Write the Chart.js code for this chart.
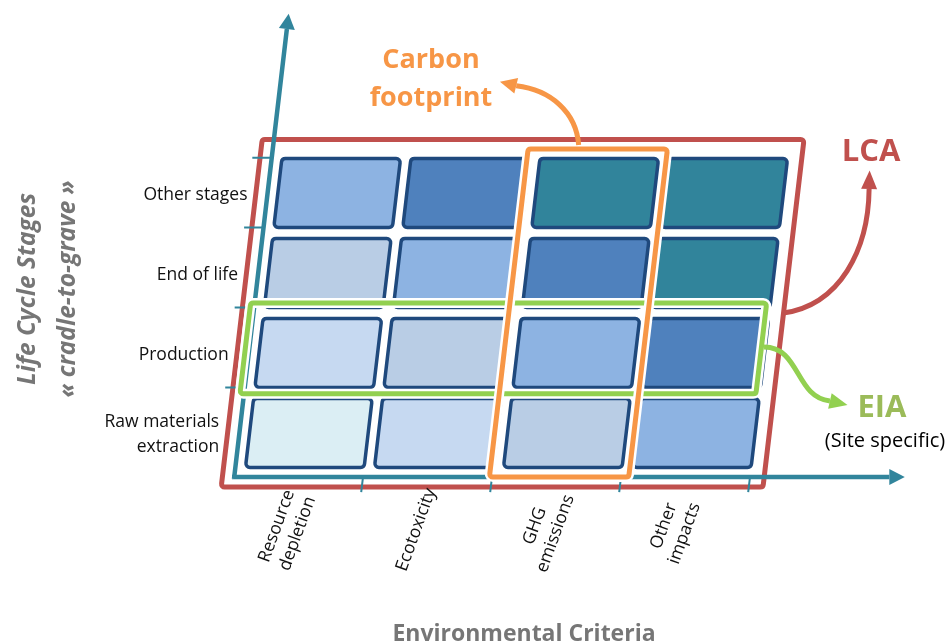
<!DOCTYPE html>
<html>
<head>
<meta charset="utf-8">
<script src="https://cdn.jsdelivr.net/npm/chart.js@4.4.0/dist/chart.umd.min.js"></script>
<style>
body { margin: 0; background: #fff; }
#chart { display: block; }
</style>
</head>
<body>
<canvas id="chart" width="952" height="644"></canvas>
<script>
// life cycle stages, bottom row first
const stages = [['Raw materials', 'extraction'], ['Production'], ['End of life'], ['Other stages']];
// environmental criteria, left column first
const criteria = [['Resource', 'depletion'], ['Ecotoxicity'], ['GHG', 'emissions'], ['Other', 'impacts']];
// impact level of each cell (1 = lightest, 6 = darkest), one array per stage
const rawMaterials = [1, 2, 3, 4];
const production = [2, 3, 4, 5];
const endOfLife = [3, 4, 5, 6];
const otherStages = [4, 5, 6, 6];
const levelColors = ['#dbeef4', '#c6d9f1', '#b9cde5', '#8db3e2', '#4f81bd', '#31849b'];

// scopes drawn round the matrix, in axis units
const lcaScope = { x: [-0.09, 4.11], y: [-0.125, 4.22] };
const carbonScope = { x: [1.98, 3.06], y: [0, 4.1] };
const eiaScope = { x: [-0.03, 3.97], y: [1.04, 2.175] };

const SKEW = 0.118;
const levels = [rawMaterials, production, endOfLife, otherStages];

const cellPoints = [];
levels.forEach((row, r) => {
    row.forEach((lv, c) => {
        cellPoints.push({ x: c + 0.54, y: r + 0.55, level: lv });
    });
});

function toPx(chart, xv, yv) {
    const xs = chart.scales.x, ys = chart.scales.y;
    const py = ys.getPixelForValue(yv);
    const px = xs.getPixelForValue(xv) + SKEW * (ys.getPixelForValue(0) - py);
    return [px, py];
}

function roundedPoly(ctx, pts, rad) {
    const n = pts.length;
    ctx.beginPath();
    ctx.moveTo((pts[0][0] + pts[n - 1][0]) / 2, (pts[0][1] + pts[n - 1][1]) / 2);
    for (let i = 0; i < n; i++) {
        const a = pts[i], b = pts[(i + 1) % n];
        ctx.arcTo(a[0], a[1], b[0], b[1], rad);
    }
    ctx.closePath();
}

function quad(chart, xr, yr) {
    return [
        toPx(chart, xr[0], yr[0]),
        toPx(chart, xr[1], yr[0]),
        toPx(chart, xr[1], yr[1]),
        toPx(chart, xr[0], yr[1])
    ];
}

function scopeBox(ctx, chart, box, color, halo) {
    const pts = quad(chart, box.x, box.y);
    if (halo) {
        roundedPoly(ctx, pts, 3);
        ctx.strokeStyle = '#fff';
        ctx.lineWidth = 10;
        ctx.stroke();
    }
    roundedPoly(ctx, pts, 3);
    ctx.strokeStyle = color;
    ctx.lineWidth = 5;
    ctx.stroke();
}

function arrowHead(ctx, base, tip, size, color) {
    const dx = tip[0] - base[0], dy = tip[1] - base[1];
    const len = Math.hypot(dx, dy);
    const ux = dx / len, uy = dy / len;
    ctx.beginPath();
    ctx.moveTo(tip[0], tip[1]);
    ctx.lineTo(base[0] - uy * size, base[1] + ux * size);
    ctx.lineTo(base[0] + uy * size, base[1] - ux * size);
    ctx.closePath();
    ctx.fillStyle = color;
    ctx.fill();
}

function curvedArrow(ctx, chart, p, color) {
    const q = p.map(v => toPx(chart, v[0], v[1]));
    ctx.beginPath();
    ctx.moveTo(q[0][0], q[0][1]);
    ctx.bezierCurveTo(q[1][0], q[1][1], q[2][0], q[2][1], q[3][0], q[3][1]);
    ctx.strokeStyle = color;
    ctx.lineWidth = 5;
    ctx.lineCap = 'butt';
    ctx.stroke();
    arrowHead(ctx, q[3], q[4], 8, color);
}

const matrixPlugin = {
    id: 'matrix',
    afterDatasetsDraw(chart) {
        const ctx = chart.ctx;
        const teal = '#31859c';
        ctx.save();

        // cells
        chart.data.datasets[0].data.forEach(p => {
            const c = Math.floor(p.x), r = Math.floor(p.y);
            const pts = quad(chart, [c + 0.08, c + 1.0], [r + 0.12, r + 0.98]);
            roundedPoly(ctx, pts, 4);
            ctx.fillStyle = levelColors[p.level - 1];
            ctx.fill();
            ctx.strokeStyle = '#1f497d';
            ctx.lineWidth = 3.5;
            ctx.lineJoin = 'round';
            ctx.stroke();
        });

        // LCA scope
        scopeBox(ctx, chart, lcaScope, '#c0504d', false);

        // axes
        ctx.strokeStyle = teal;
        ctx.lineWidth = 4.5;
        const o = toPx(chart, 0, 0), xEnd = toPx(chart, 5.08, 0), yEnd = toPx(chart, 0, 5.6);
        ctx.beginPath();
        ctx.moveTo(o[0] - 2, o[1]);
        ctx.lineTo(xEnd[0], xEnd[1]);
        ctx.moveTo(o[0], o[1] + 2);
        ctx.lineTo(yEnd[0], yEnd[1]);
        ctx.stroke();
        arrowHead(ctx, xEnd, toPx(chart, 5.2, 0), 8, teal);
        arrowHead(ctx, yEnd, toPx(chart, 0, 5.79), 8, teal);

        // ticks
        ctx.lineWidth = 2;
        ctx.beginPath();
        criteria.forEach((_, c) => {
            const a = toPx(chart, c + 1, -0.02), b = toPx(chart, c + 1, -0.19);
            ctx.moveTo(a[0], a[1]);
            ctx.lineTo(b[0], b[1]);
        });
        const yTicks = stages.map((_, r) => r + 0.12).slice(1).concat([stages.length - 0.01]);
        yTicks.forEach(t => {
            const a = toPx(chart, 0, t), b = toPx(chart, -0.15, t);
            ctx.moveTo(a[0], a[1]);
            ctx.lineTo(b[0], b[1]);
        });
        ctx.stroke();

        // EIA and carbon footprint scopes
        scopeBox(ctx, chart, eiaScope, '#92d050', true);
        scopeBox(ctx, chart, carbonScope, '#f79646', true);

        // arrows from scopes to their names
        curvedArrow(ctx, chart, [[2.368, 4.15], [2.32, 4.56], [2.10, 4.84], [1.83, 4.89], [1.70, 4.94]], '#f79646');
        curvedArrow(ctx, chart, [[4.108, 2.05], [4.54, 2.15], [4.71, 2.84], [4.66, 3.6], [4.647, 3.83]], '#c0504d');
        curvedArrow(ctx, chart, [[3.99, 1.625], [4.27, 1.625], [4.28, 0.99], [4.55, 0.95], [4.69, 0.9]], '#92d050');

        // stage labels
        ctx.fillStyle = '#111';
        ctx.font = '17.5px "Open Sans"';
        ctx.textAlign = 'right';
        ctx.textBaseline = 'middle';
        stages.forEach((lines, r) => {
            const a = toPx(chart, 0, r + 0.55);
            lines.forEach((s, i) => {
                ctx.fillText(s, a[0] - 20, a[1] + (i - (lines.length - 1) / 2) * 25 + 2);
            });
        });

        // criteria labels
        ctx.textAlign = 'center';
        criteria.forEach((lines, c) => {
            const a = toPx(chart, c + 0.46, -0.66);
            ctx.save();
            ctx.translate(a[0], a[1]);
            ctx.rotate(-70 * Math.PI / 180);
            lines.forEach((s, i) => {
                ctx.fillText(s, 0, (i - (lines.length - 1) / 2) * 22);
            });
            ctx.restore();
        });

        // axis titles
        ctx.fillStyle = '#767676';
        ctx.textBaseline = 'alphabetic';
        ctx.font = 'italic bold 24.5px "Open Sans"';
        ctx.save();
        ctx.translate(35, 289);
        ctx.rotate(-Math.PI / 2);
        ctx.fillText('Life Cycle Stages', 0, 0);
        ctx.fillText('« cradle-to-grave »', 0, 40);
        ctx.restore();
        ctx.font = 'bold 23px "Open Sans"';
        ctx.fillText('Environmental Criteria', 524, 641);

        // scope names
        ctx.font = 'bold 27px "Open Sans"';
        ctx.fillStyle = '#f79646';
        ctx.fillText('Carbon', 431, 68);
        ctx.fillText('footprint', 431, 106);
        ctx.font = 'bold 31px "Open Sans"';
        ctx.fillStyle = '#c0504d';
        ctx.fillText('LCA', 871, 161);
        ctx.fillStyle = '#9bbb59';
        ctx.fillText('EIA', 882, 417);
        ctx.font = '20px "Open Sans"';
        ctx.fillStyle = '#000';
        ctx.fillText('(Site specific)', 885, 447);

        ctx.restore();
    }
};

new Chart(document.getElementById('chart'), {
    type: 'scatter',
    data: {
        datasets: [{
            data: cellPoints,
            pointRadius: 0,
            pointHoverRadius: 0
        }]
    },
    options: {
        responsive: false,
        animation: false,
        layout: { padding: 0 },
        plugins: { legend: { display: false }, tooltip: { enabled: false } },
        scales: {
            x: { type: 'linear', min: -1.814, max: 5.566, display: false },
            y: { type: 'linear', min: -2.0875, max: 5.9625, display: false }
        }
    },
    plugins: [matrixPlugin]
});
</script>
</body>
</html>
